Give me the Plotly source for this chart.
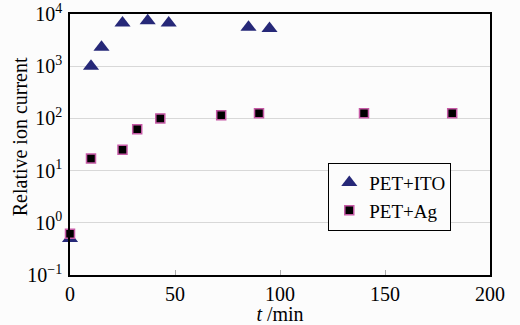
import plotly.graph_objects as go

ito_t = [0, 10, 15, 25, 37, 47, 85, 95]
ito_v = [0.5, 1000, 2300, 6700, 7400, 6700, 5600, 5300]
ag_t = [0, 10, 25, 32, 43, 72, 90, 140, 182]
ag_v = [0.62, 17, 25, 62, 100, 115, 125, 125, 125]
y_tickvals = [0.1, 1, 10, 100, 1000, 10000]
y_ticktext = ["10<sup>−1</sup>", "10<sup>0</sup>", "10<sup>1</sup>", "10<sup>2</sup>", "10<sup>3</sup>", "10<sup>4</sup>"]
x_tickvals = [0, 50, 100, 150, 200]

font = "Liberation Serif, DejaVu Serif, serif"

fig = go.Figure()
fig.add_trace(go.Scatter(x=ito_t, y=ito_v, mode="markers", name="PET+ITO",
                         marker=dict(symbol="triangle-up", size=14, color="#262878"),
                         cliponaxis=False))
fig.add_trace(go.Scatter(x=ag_t, y=ag_v, mode="markers", name="PET+Ag",
                         marker=dict(symbol="square", size=9, color="black",
                                     line=dict(color="#c65aa6", width=1.5)),
                         cliponaxis=False))

fig.update_layout(
    width=520, height=325,
    margin=dict(l=70, r=30, t=14, b=50, autoexpand=False),
    paper_bgcolor="#fcfcfc", plot_bgcolor="#fcfcfc",
    font=dict(family=font, size=20, color="black"),
    showlegend=True,
    legend=dict(x=0.615, y=0.30, xanchor="left", yanchor="middle",
                bordercolor="black", borderwidth=1, bgcolor="#fcfcfc",
                font=dict(size=19), itemwidth=30, tracegroupgap=0),
    annotations=[dict(text="Relative ion current", textangle=-90, x=-0.12, y=0.53,
                      xref="paper", yref="paper", xanchor="center", yanchor="middle",
                      showarrow=False, font=dict(size=20))],
)
fig.update_xaxes(range=[0, 200], tickvals=x_tickvals, ticks="inside", ticklen=5,
                 tickcolor="#aaa", showgrid=False, zeroline=False, automargin=False,
                 showline=True, linecolor="black", linewidth=1.5, mirror=True,
                 tickfont=dict(size=20),
                 title=dict(text="<i>t</i> /min", standoff=0, font=dict(size=20)))
fig.update_yaxes(type="log", range=[-1, 4], tickvals=y_tickvals, ticktext=y_ticktext,
                 showgrid=True, gridcolor="#d8d8d8", gridwidth=1, zeroline=False,
                 showline=True, linecolor="black", linewidth=1.5, mirror=True,
                 automargin=False, ticks="", ticklabelstandoff=2, tickfont=dict(size=20))

fig.write_html("out.html", config={"displayModeBar": False},
               post_script="document.body.style.margin='0';document.body.style.background='#fcfcfc';")
